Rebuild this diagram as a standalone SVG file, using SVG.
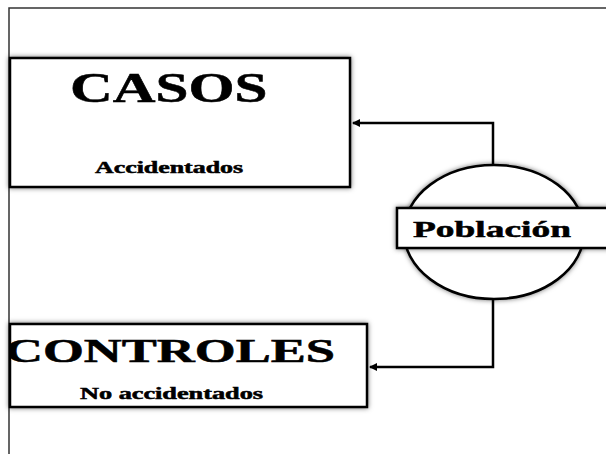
<svg xmlns="http://www.w3.org/2000/svg" width="606" height="454" viewBox="0 0 606 454">
<style>
.box{fill:#fff;stroke:#000;stroke-width:2.5;filter:url(#glow)}
.t{font-family:"Liberation Serif","Times New Roman",serif;font-weight:bold;fill:#000;stroke:#000;stroke-width:0.5}
.conn{fill:none;stroke:#000;stroke-width:2.5}
</style>
<defs>
<filter id="glow" x="-20%" y="-20%" width="140%" height="140%">
<feGaussianBlur in="SourceAlpha" stdDeviation="2.5" result="b"/>
<feFlood flood-color="#000" flood-opacity="0.55"/>
<feComposite in2="b" operator="in" result="s"/>
<feMerge><feMergeNode in="s"/><feMergeNode in="SourceGraphic"/></feMerge>
</filter>
<clipPath id="cclip"><rect x="11" y="324" width="356" height="83"/></clipPath>
<marker id="arr" markerWidth="8" markerHeight="8" refX="7" refY="4" orient="auto" markerUnits="userSpaceOnUse">
<path d="M0,0 L8,4 L0,8 Z" fill="#000"/>
</marker>
</defs>
<rect width="606" height="454" fill="#fff"/>
<path d="M9,454 V8 H606" fill="none" stroke="#333" stroke-width="1.5"/>
<g id="connectors">
<path class="conn" d="M493,166 V123 H353" marker-end="url(#arr)"/>
<path class="conn" d="M493,300 V367 H370" marker-end="url(#arr)"/>
</g>
<g id="casos">
<rect class="box" x="10" y="58" width="340" height="129"/>
<text class="t" transform="translate(70,102) scale(1.4,1)" font-size="42" textLength="141" lengthAdjust="spacingAndGlyphs">CASOS</text>
<text class="t" transform="translate(95,173) scale(1.5,1)" font-size="16" textLength="98.7" lengthAdjust="spacingAndGlyphs">Accidentados</text>
</g>
<g id="poblacion">
<ellipse class="box" cx="494" cy="232" rx="90" ry="67"/>
<rect class="box" x="397" y="208" width="215" height="40"/>
<text class="t" transform="translate(413,237) scale(1.5,1)" font-size="23" textLength="105.3" lengthAdjust="spacingAndGlyphs">Población</text>
</g>
<g id="controles">
<rect class="box" x="10" y="324" width="357" height="83"/>
<g clip-path="url(#cclip)">
<text class="t" transform="translate(5,362) scale(1.55,1)" font-size="33" textLength="212.9" lengthAdjust="spacingAndGlyphs">CONTROLES</text>
</g>
<text class="t" transform="translate(80,399) scale(1.5,1)" font-size="16" textLength="122" lengthAdjust="spacingAndGlyphs">No accidentados</text>
</g>
</svg>
